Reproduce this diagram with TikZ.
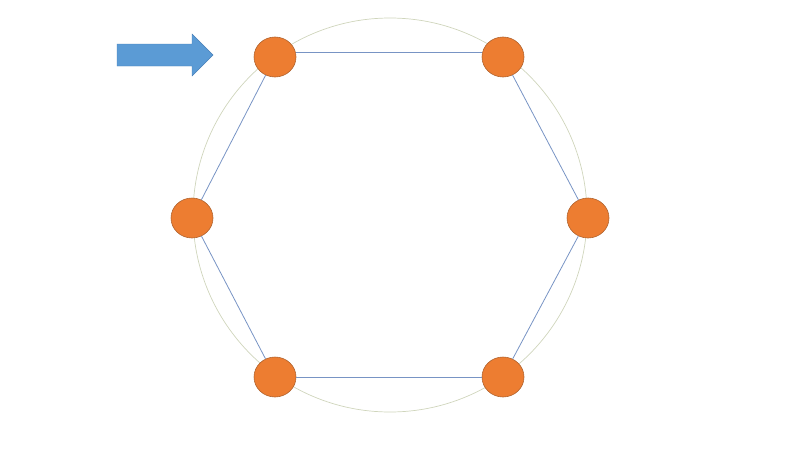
\documentclass[tikz,border=0pt]{standalone}
\usepackage{xcolor}
\usepackage{tikz}
\usetikzlibrary{shapes.geometric, arrows, positioning}

\definecolor{dotorange}{HTML}{ED7D31}
\definecolor{dotedge}{HTML}{B0632E}
\definecolor{ringgray}{HTML}{CFD5BC}
\definecolor{linkblue}{HTML}{7894C4}
\definecolor{pointerblue}{HTML}{5B9BD5}
\definecolor{pointeredge}{HTML}{4A80B8}

\begin{document}
\begin{tikzpicture}[x=1pt, y=-1pt]
\tikzstyle{dot} = [ellipse, draw=dotedge, fill=dotorange, minimum width=42pt, minimum height=40pt, inner sep=0pt, line width=0.6pt]
\tikzstyle{link} = [draw=linkblue, line width=0.8pt]

\useasboundingbox (0,0) rectangle (800,450);

% guide circle
\draw [ringgray, line width=0.7pt] (390,215) circle (197pt);

% pointer arrow
\fill [pointerblue, draw=pointeredge, line width=0.4pt] (117,44) -- (192,44) -- (192,34) -- (213,55) -- (192,76) -- (192,66) -- (117,66) -- cycle;

\node (topleft) [dot] at (275,57) {};
\node (topright) [dot] at (503,57) {};
\node (right) [dot] at (588,218) {};
\node (botright) [dot] at (503,377) {};
\node (botleft) [dot] at (275,377) {};
\node (left) [dot] at (192,218) {};

\draw [link] ([yshift=4.5pt]topleft.east) -- ([yshift=4.5pt]topright.west);
\draw [link] (topright) -- (right);
\draw [link] (right) -- (botright);
\draw [link] (botright) -- (botleft);
\draw [link] (botleft) -- (left);
\draw [link] (left) -- (topleft);

\end{tikzpicture}
\end{document}
